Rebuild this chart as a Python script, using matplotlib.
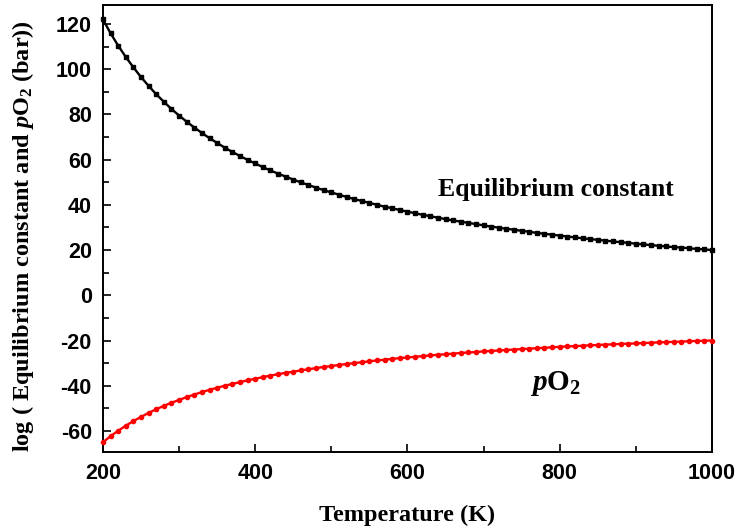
import matplotlib
matplotlib.use("Agg")
import matplotlib.pyplot as plt
from matplotlib.ticker import MultipleLocator

plt.rcParams["axes.unicode_minus"] = False
plt.rcParams["mathtext.fontset"] = "custom"
plt.rcParams["mathtext.rm"] = "Liberation Serif:bold"
plt.rcParams["mathtext.it"] = "Liberation Serif:italic:bold"
plt.rcParams["mathtext.bf"] = "Liberation Serif:bold"

temperature = list(range(200, 1001, 10))

log_k = [122.0, 115.9, 110.4, 105.4, 100.8, 96.5, 92.6, 88.9, 85.6, 82.4,
         79.5, 76.8, 74.2, 71.8, 69.5, 67.4, 65.3, 63.4, 61.6, 59.9,
         58.3, 56.7, 55.2, 53.8, 52.5, 51.2, 49.9, 48.8, 47.6, 46.5,
         45.5, 44.5, 43.5, 42.6, 41.7, 40.9, 40.0, 39.2, 38.5, 37.7,
         37.0, 36.3, 35.6, 35.0, 34.3, 33.7, 33.1, 32.6, 32.0, 31.5,
         30.9, 30.4, 29.9, 29.4, 29.0, 28.5, 28.1, 27.6, 27.2, 26.8,
         26.4, 26.0, 25.6, 25.2, 24.9, 24.5, 24.2, 23.8, 23.5, 23.2,
         22.8, 22.5, 22.2, 21.9, 21.6, 21.3, 21.1, 20.8, 20.5, 20.3,
         20.0]

log_po2 = [-65.0, -62.3, -59.9, -57.7, -55.6, -53.8, -52.0, -50.4, -48.9, -47.5,
           -46.3, -45.0, -43.9, -42.8, -41.8, -40.9, -40.0, -39.2, -38.4, -37.6,
           -36.9, -36.2, -35.5, -34.9, -34.3, -33.8, -33.2, -32.7, -32.2, -31.7,
           -31.3, -30.8, -30.4, -30.0, -29.6, -29.2, -28.8, -28.5, -28.1, -27.8,
           -27.5, -27.2, -26.9, -26.6, -26.3, -26.1, -25.8, -25.5, -25.3, -25.1,
           -24.8, -24.6, -24.4, -24.2, -24.0, -23.8, -23.6, -23.4, -23.2, -23.0,
           -22.8, -22.6, -22.5, -22.3, -22.1, -22.0, -21.8, -21.7, -21.5, -21.4,
           -21.3, -21.1, -21.0, -20.8, -20.7, -20.6, -20.5, -20.3, -20.2, -20.1,
           -20.0]

x_ticks = [200, 400, 600, 800, 1000]
y_ticks = [-60, -40, -20, 0, 20, 40, 60, 80, 100, 120]

fig = plt.figure(figsize=(7.37, 5.30), dpi=100)
ax = fig.add_axes([0.1397, 0.1472, 0.8263, 0.8434])

ax.plot(temperature, log_k, color="black", lw=1.7, marker="s", ms=2.6,
        clip_on=False, zorder=3)
ax.plot(temperature, log_po2, color="red", lw=1.7, marker="o", ms=3.0,
        clip_on=False, zorder=3)

ax.set_xlim(200, 1000)
ax.set_ylim(-69.3, 128.4)
ax.set_xticks(x_ticks)
ax.set_yticks(y_ticks)
ax.xaxis.set_minor_locator(MultipleLocator(100))
ax.yaxis.set_minor_locator(MultipleLocator(10))
ax.tick_params(which="both", direction="in", top=False, right=False, width=1.2)
ax.tick_params(which="major", length=6, pad=8)
ax.tick_params(which="minor", length=4)
for lab in ax.get_xticklabels() + ax.get_yticklabels():
    lab.set_fontfamily("Liberation Sans")
    lab.set_fontweight("bold")
    lab.set_fontsize(15.5)
for sp in ax.spines.values():
    sp.set_linewidth(1.4)

ax.set_xlabel("Temperature (K)",
              fontdict={"family": "Liberation Serif", "weight": "bold", "size": 17.5},
              labelpad=15)
ax.set_ylabel(r"log ( Equilibrium constant and $\mathit{p}\mathrm{O}_{\mathrm{2}}$ (bar))",
              fontdict={"family": "Liberation Serif", "weight": "bold", "size": 17.5})
ax.yaxis.set_label_coords(-0.11, 0.484)

ax.text(795, 46.6, "Equilibrium constant", ha="center", va="center",
        fontdict={"family": "Liberation Serif", "weight": "bold", "size": 18.5})
ax.text(794, -38.8, r"$\mathit{p}\mathrm{O}_{\mathrm{2}}$", ha="center", va="center",
        fontdict={"family": "Liberation Serif", "weight": "bold", "size": 21})

fig.savefig("out.png", dpi=100)
